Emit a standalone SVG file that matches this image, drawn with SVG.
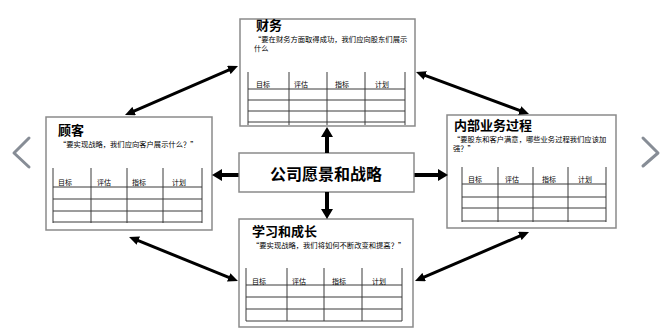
<svg xmlns="http://www.w3.org/2000/svg" width="672" height="335" viewBox="0 0 672 335">
<defs>
<style>
.box{fill:#fff;stroke:#8a8a8a;stroke-width:1.5}
.tl{stroke:#3a3a3a;stroke-width:1;fill:none}
.title{font-family:"Noto Sans CJK SC","Liberation Sans",sans-serif;font-weight:bold;font-size:13px;fill:#000}
.sub{font-family:"Noto Sans CJK SC","Liberation Sans",sans-serif;font-size:7.3px;fill:#000}
.hd{font-family:"Noto Sans CJK SC","Liberation Sans",sans-serif;font-size:7px;fill:#000}
.ctr{font-family:"Noto Sans CJK SC","Liberation Sans",sans-serif;font-weight:bold;font-size:16px;fill:#000}
.dl{stroke:#000;stroke-width:3;fill:none;marker-start:url(#ah);marker-end:url(#ah)}
.cl{stroke:#000;stroke-width:4;fill:none;marker-end:url(#bh)}
.nav{stroke:#878d96;stroke-width:3;fill:none;stroke-linecap:round;stroke-linejoin:round}
</style>
<marker id="ah" markerUnits="userSpaceOnUse" markerWidth="10" markerHeight="9" viewBox="0 0 10 9" refX="4" refY="4.5" orient="auto-start-reverse"><path d="M0,0 L10,4.5 L0,9 z" fill="#000"/></marker>
<marker id="bh" markerUnits="userSpaceOnUse" markerWidth="10" markerHeight="12" viewBox="0 0 10 12" refX="2" refY="6" orient="auto"><path d="M0,0 L10,6 L0,12 z" fill="#000"/></marker>
</defs>
<rect width="672" height="335" fill="#fff"/>
<g id="nav">
<polyline class="nav" points="29,138 14,153 29,167"/>
<polyline class="nav" points="643,138 658,153 643,166"/>
</g>
<g id="finance">
<rect class="box" x="240" y="19" width="175" height="107"/>
<text class="title" x="256" y="30">财务</text>
<text class="sub" x="254" y="42">“要在财务方面取得成功，我们应向股东们展示</text>
<text class="sub" x="254" y="51">什么</text>
<path class="tl" d="M248,72V125M289,72V125M327,72V125M365,72V125M405,72V125M248,89H405M248,100H405M248,111H405M248,122H405"/>
<text class="hd" x="256" y="87">目标</text><text class="hd" x="294" y="87">评估</text><text class="hd" x="335" y="87">指标</text><text class="hd" x="375" y="87">计划</text>
</g>
<g id="customer">
<rect class="box" x="46" y="117" width="166" height="113"/>
<text class="title" x="58" y="135">顾客</text>
<text class="sub" x="59" y="147">“要实现战略，我们应向客户展示什么？”</text>
<path class="tl" d="M53,168V223M91,168V223M127,168V223M163,168V223M202,168V223M53,187H202M53,199H202M53,211H202M53,222H202"/>
<text class="hd" x="58" y="185">目标</text><text class="hd" x="97" y="185">评估</text><text class="hd" x="132" y="185">指标</text><text class="hd" x="172" y="185">计划</text>
</g>
<g id="process">
<rect class="box" x="447" y="115" width="169" height="113"/>
<text class="title" x="454" y="130">内部业务过程</text>
<text class="sub" x="453" y="142">“要股东和客户满意，哪些业务过程我们应该加</text>
<text class="sub" x="453" y="151">强？”</text>
<path class="tl" d="M462,167V222M498,167V222M533,167V222M568,167V222M606,167V222M462,184H606M462,197H606M462,208H606M462,221H606"/>
<text class="hd" x="468" y="182">目标</text><text class="hd" x="505" y="182">评估</text><text class="hd" x="542" y="182">指标</text><text class="hd" x="578" y="182">计划</text>
</g>
<g id="learning">
<rect class="box" x="239" y="219" width="174" height="108"/>
<text class="title" x="252" y="236">学习和成长</text>
<text class="sub" x="252" y="248">“要实现战略，我们将如何不断改变和提高？”</text>
<path class="tl" d="M246,268V321M287,268V321M324,268V321M362,268V321M402,268V321M246,285H402M246,297H402M246,309H402M246,321H402"/>
<text class="hd" x="252" y="284">目标</text><text class="hd" x="292" y="284">评估</text><text class="hd" x="332" y="284">指标</text><text class="hd" x="372" y="284">计划</text>
</g>
<g id="center">
<rect class="box" x="239" y="153" width="175" height="39"/>
<text class="ctr" x="326" y="180" text-anchor="middle">公司愿景和战略</text>
</g>
<g id="connectors">
<line class="dl" x1="130.5" y1="112.6" x2="232.5" y2="68.4"/>
<line class="dl" x1="421.6" y1="74.1" x2="523.4" y2="111.9"/>
<line class="dl" x1="134.6" y1="239.2" x2="232.4" y2="278.8"/>
<line class="dl" x1="523.5" y1="234.4" x2="420.5" y2="278.6"/>
<line class="cl" x1="327" y1="153" x2="327" y2="135"/>
<line class="cl" x1="327" y1="192" x2="327" y2="211"/>
<line class="cl" x1="238.5" y1="175" x2="220" y2="175"/>
<line class="cl" x1="414.5" y1="175" x2="440" y2="175"/>
</g>
</svg>
